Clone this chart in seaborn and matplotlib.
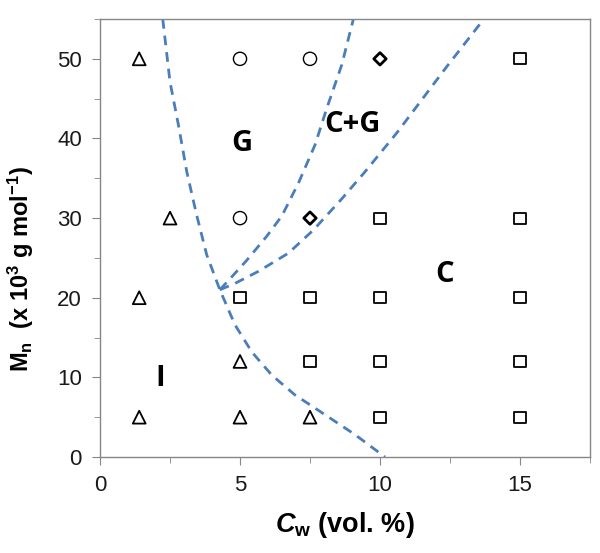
import numpy as np
import pandas as pd
import matplotlib
matplotlib.use("Agg")
import matplotlib.pyplot as plt
from matplotlib.ticker import MultipleLocator
import seaborn as sns

# ------------------------------------------
# DATA
# ------------------------------------------
tri_x = [1.4, 2.5, 1.4, 1.4, 5, 5, 7.5]
tri_y = [50, 30, 20, 5, 12, 5, 5]

circ_x = [5, 7.5, 5]
circ_y = [50, 50, 30]

diam_x = [10, 7.5]
diam_y = [50, 30]

sq_x = [15, 10, 15, 5, 7.5, 10, 15, 7.5, 10, 15, 10, 15]
sq_y = [50, 30, 30, 20, 20, 20, 20, 12, 12, 12, 5, 5]

# phase boundaries (dashed)
b1_x = [2.24, 2.5, 2.80, 3.10, 3.45, 3.81, 4.28, 4.82, 5.42, 6.13, 6.96, 8.04, 9.11, 10.18]
b1_y = [55, 47.1, 41.7, 35.8, 30.4, 25.4, 21.0, 16.6, 13.2, 10.3, 7.8, 5.3, 2.8, 0]
b2_x = [4.28, 4.7, 5.24, 5.95, 6.5, 7.1, 7.68, 8.10, 8.63, 9.05]
b2_y = [21.0, 22.6, 24.7, 27.7, 30.3, 34.5, 39.2, 43.8, 49.2, 55]
b3_x = [4.28, 4.82, 5.65, 6.73, 7.62, 8.63, 9.46, 10.6, 12.38, 13.71]
b3_y = [21.0, 21.8, 23.3, 25.6, 28.5, 32.4, 35.8, 40.7, 49.0, 55]

region_labels = ["G", "C+G", "C", "I"]
region_x = [5.07, 9.0, 12.3, 2.14]
region_y = [39.4, 41.7, 22.9, 9.9]

# ------------------------------------------
# STYLE
# ------------------------------------------
sns.set_style("ticks")
plt.rcParams["font.family"] = ["Liberation Sans", "DejaVu Sans"]
plt.rcParams["text.color"] = "black"
plt.rcParams["axes.labelcolor"] = "black"
plt.rcParams["mathtext.fontset"] = "custom"
plt.rcParams["mathtext.rm"] = "Liberation Sans:bold"
plt.rcParams["mathtext.it"] = "Liberation Sans:italic:bold"
plt.rcParams["mathtext.bf"] = "Liberation Sans:bold"

fig = plt.figure(figsize=(6, 5.53), dpi=100)
ax = fig.add_axes([0.1667, 0.1736, 0.8166, 0.792])

# ------------------------------------------
# BOUNDARY CURVES
# ------------------------------------------
line_color = "#4a7ebb"
for bx, by in [(b1_x, b1_y), (b2_x, b2_y), (b3_x, b3_y)]:
    sns.lineplot(x=bx, y=by, ax=ax, sort=False, estimator=None,
                 color=line_color, linewidth=2, linestyle=(0, (3.5, 2.5)),
                 zorder=1)

# ------------------------------------------
# DATA POINTS
# ------------------------------------------
pts = pd.concat([
    pd.DataFrame({"x": tri_x, "y": tri_y, "phase": "I"}),
    pd.DataFrame({"x": circ_x, "y": circ_y, "phase": "G"}),
    pd.DataFrame({"x": diam_x, "y": diam_y, "phase": "C+G"}),
    pd.DataFrame({"x": sq_x, "y": sq_y, "phase": "C"}),
])

marker_opts = {
    "I": dict(marker="^", s=85, linewidths=1.3),
    "G": dict(marker="o", s=90, linewidths=1.0),
    "C+G": dict(marker="D", s=40, linewidths=2.0),
    "C": dict(marker="s", s=65, linewidths=1.3),
}
for phase, opts in marker_opts.items():
    sub = pts[pts["phase"] == phase]
    sns.scatterplot(data=sub, x="x", y="y", ax=ax, facecolors="none",
                    edgecolor="black", zorder=3, legend=False, **opts)

# region labels
for lab, lx, ly in zip(region_labels, region_x, region_y):
    ax.text(lx, ly, lab, fontsize=21, fontweight="bold", color="black",
            family=["Open Sans", "DejaVu Sans"], ha="center", va="center")

# ------------------------------------------
# AXES
# ------------------------------------------
ax.set_xlim(0, 17.5)
ax.set_ylim(0, 55)
ax.xaxis.set_major_locator(MultipleLocator(5))
ax.xaxis.set_minor_locator(MultipleLocator(2.5))
ax.yaxis.set_major_locator(MultipleLocator(10))
ax.yaxis.set_minor_locator(MultipleLocator(5))

spine_color = "#868686"
for sp in ax.spines.values():
    sp.set_visible(True)
    sp.set_color(spine_color)
    sp.set_linewidth(1.0)

ax.tick_params(which="both", direction="out", color=spine_color,
               labelsize=16, labelcolor="#1a1a1a", pad=7)
ax.tick_params(which="major", length=6)
ax.tick_params(which="minor", length=4)
ax.tick_params(axis="x", which="minor", bottom=True)

ax.set_xlabel(r"$C_{\mathrm{w}}$ (vol. %)", fontsize=19.5, fontweight="bold",
              labelpad=10)
ax.set_ylabel(r"$\mathrm{M_n}$  (x 10$^{\mathrm{3}}$ g mol$^{\mathrm{-1}}$)",
              fontsize=17, fontweight="bold")
ax.yaxis.set_label_coords(-0.13, 0.43)

fig.savefig("out.png", dpi=100)
